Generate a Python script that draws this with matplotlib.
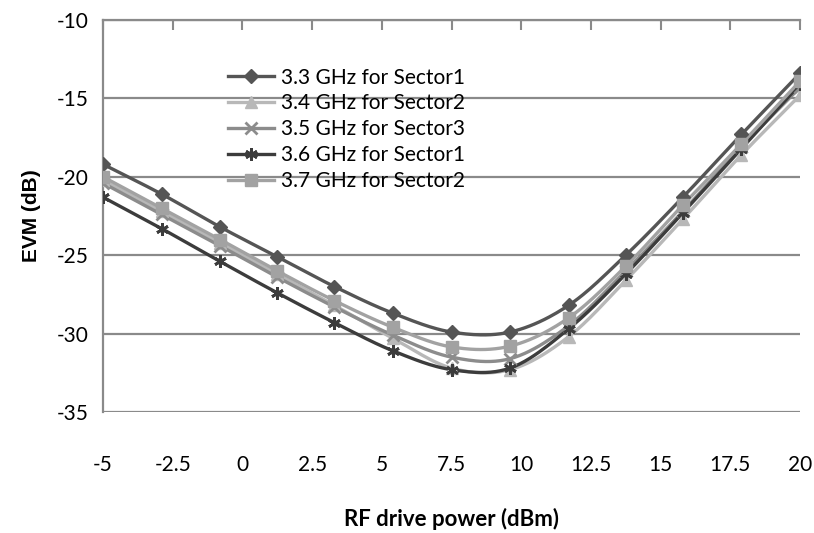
import numpy as np
import matplotlib
matplotlib.use("Agg")
import matplotlib.pyplot as plt
from matplotlib.lines import Line2D

# ---- data ----
drive_power = [-5, -2.9, -0.8, 1.25, 3.3, 5.4, 7.5, 9.6, 11.7, 13.75, 15.8, 17.9, 20]
labels = ["3.3 GHz for Sector1", "3.4 GHz for Sector2", "3.5 GHz for Sector3",
          "3.6 GHz for Sector1", "3.7 GHz for Sector2"]
evm_33 = [-19.2, -21.1, -23.2, -25.1, -27.0, -28.7, -29.9, -29.9, -28.2, -25.0, -21.3, -17.3, -13.4]
evm_34 = [-20.2, -22.2, -24.2, -26.2, -28.2, -30.3, -32.2, -32.3, -30.2, -26.6, -22.7, -18.6, -14.8]
evm_35 = [-20.4, -22.4, -24.4, -26.4, -28.3, -30.1, -31.5, -31.6, -29.5, -26.0, -22.2, -18.1, -14.3]
evm_36 = [-21.3, -23.3, -25.4, -27.4, -29.3, -31.1, -32.3, -32.2, -29.7, -26.2, -22.3, -18.2, -14.1]
evm_37 = [-20.0, -22.0, -24.0, -26.0, -27.9, -29.6, -30.85, -30.8, -29.0, -25.7, -21.8, -17.9, -13.9]
series = [evm_33, evm_34, evm_35, evm_36, evm_37]
xticks = [-5, -2.5, 0, 2.5, 5, 7.5, 10, 12.5, 15, 17.5, 20]
xtick_labels = ["-5", "-2.5", "0", "2.5", "5", "7.5", "10", "12.5", "15", "17.5", "20"]
yticks = [-35, -30, -25, -20, -15, -10]

# ---- style ----
colors = ["#555555", "#b8b8b8", "#8c8c8c", "#3c3c3c", "#a2a2a2"]
markers = ["D", "^", "x", (6, 2, 0), "s"]
msizes = [7, 8, 8, 9, 8]
axis_gray = "#8a8a8a"

def catmull_rom(x, y, n=24):
    x = np.asarray(x, float); y = np.asarray(y, float)
    px = np.concatenate([[2*x[0]-x[1]], x, [2*x[-1]-x[-2]]])
    py = np.concatenate([[2*y[0]-y[1]], y, [2*y[-1]-y[-2]]])
    ox, oy = [], []
    t = np.linspace(0, 1, n, endpoint=False)
    for i in range(1, len(px)-2):
        for arr, out in ((px, ox), (py, oy)):
            p0, p1, p2, p3 = arr[i-1], arr[i], arr[i+1], arr[i+2]
            out.extend(0.5*((2*p1) + (-p0+p2)*t + (2*p0-5*p1+4*p2-p3)*t**2 + (-p0+3*p1-3*p2+p3)*t**3))
    ox.append(x[-1]); oy.append(y[-1])
    return np.array(ox), np.array(oy)

fam = ["Lato", "DejaVu Sans"]

fig = plt.figure(figsize=(8.14, 5.33), dpi=100)
ax = fig.add_axes([103/814, 1-412/533, (800-103)/814, (412-20)/533])

handles = []
for vals, c, m, ms, lab in zip(series, colors, markers, msizes, labels):
    sx, sy = catmull_rom(drive_power, vals)
    mew = 2 if m in ("x", (6, 2, 0)) else 1
    ax.plot(sx, sy, color=c, lw=2.4, zorder=3, solid_capstyle="round")
    ax.plot(drive_power, vals, linestyle="none", marker=m, color=c, ms=ms, mew=mew, zorder=4)
    handles.append(Line2D([0], [0], color=c, lw=2.4, marker=m, ms=ms, mew=mew))

ax.set_xlim(-5, 20)
ax.set_ylim(-35, -10)
ax.set_xticks(xticks)
ax.set_xticklabels(xtick_labels, fontfamily=fam, fontsize=15)
ax.set_yticks(yticks)
ax.set_yticklabels([str(v) for v in yticks], fontfamily=fam, fontsize=15)
ax.tick_params(axis="y", length=0, pad=10)
# x axis ticks sit on the top line, pointing down; labels stay at the bottom
ax.tick_params(axis="x", bottom=False, top=True, labelbottom=True, labeltop=False,
               direction="in", length=7, width=1.5, color=axis_gray, pad=31)
ax.tick_params(axis="x", which="major", pad=31)

ax.grid(axis="y", color=axis_gray, lw=1.6, zorder=1)
for side in ("right", "bottom"):
    ax.spines[side].set_visible(False)
for side in ("left", "top"):
    ax.spines[side].set_color(axis_gray)
    ax.spines[side].set_linewidth(1.6)

ax.set_xlabel("RF drive power (dBm)", fontfamily=fam, fontsize=16, fontweight="bold", labelpad=24)
ax.set_ylabel("EVM (dB)", fontfamily=["Liberation Sans", "DejaVu Sans"], fontsize=15,
              fontweight="bold", labelpad=12)

leg = ax.legend(handles, labels, loc="upper left", bbox_to_anchor=(0.165, 0.905),
                frameon=False, prop={"family": fam, "size": 15},
                handlelength=2.2, handletextpad=0.3, labelspacing=0.28, borderpad=0)

fig.savefig("out.png", dpi=100)
